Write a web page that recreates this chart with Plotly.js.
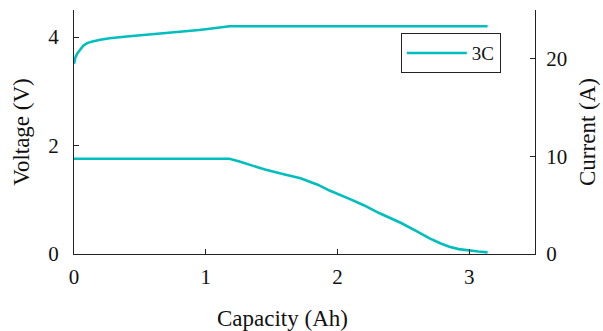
<!DOCTYPE html>
<html>
<head>
<meta charset="utf-8">
<script src="https://cdn.plot.ly/plotly-3.0.1.min.js"></script>
<style>html,body{margin:0;padding:0;background:#fff;}#chart{width:603px;height:331px;}</style>
</head>
<body>
<div id="chart"></div>
<script>
// Voltage (left axis) vs capacity
const capV = [0.0, 0.01, 0.025, 0.045, 0.07, 0.1, 0.14, 0.2, 0.27, 0.4, 0.55, 0.65, 0.8, 0.95, 1.03, 1.1, 1.18, 1.5, 2.0, 2.5, 2.9, 3.14];
const voltage = [3.51, 3.62, 3.7, 3.77, 3.84, 3.89, 3.92, 3.95, 3.98, 4.01, 4.04, 4.06, 4.09, 4.13, 4.155, 4.18, 4.2, 4.2, 4.2, 4.2, 4.2, 4.2];
// Current (right axis) vs capacity
const capI = [0.0, 0.5, 1.0, 1.18, 1.25, 1.34, 1.45, 1.6, 1.72, 1.85, 1.94, 2.1, 2.2, 2.32, 2.4, 2.48, 2.6, 2.7, 2.78, 2.85, 2.92, 3.0, 3.07, 3.14];
const current = [9.76, 9.76, 9.76, 9.76, 9.5, 9.1, 8.65, 8.15, 7.76, 7.1, 6.5, 5.6, 5.0, 4.17, 3.7, 3.2, 2.35, 1.6, 1.1, 0.75, 0.5, 0.35, 0.25, 0.17];
const seriesName = "3C";
const xTitle = "Capacity (Ah)";
const lineColor = "rgb(0,190,190)";

const traces = [
  {x: capV, y: voltage, type: "scatter", mode: "lines", name: seriesName,
   line: {color: lineColor, width: 2.6}, yaxis: "y", showlegend: true},
  {x: capI, y: current, type: "scatter", mode: "lines", name: seriesName,
   line: {color: lineColor, width: 2.6}, yaxis: "y2", showlegend: false}
];

const fam = "Liberation Serif, Times New Roman, serif";
const font = {family: fam, size: 23, color: "#111"};
const tfont = {family: fam, size: 21, color: "#111"};
const layout = {
  width: 603, height: 331,
  margin: {l: 74, r: 68, t: 10, b: 77},
  paper_bgcolor: "#fff", plot_bgcolor: "#fff",
  font: font,
  showlegend: true,
  legend: {x: 0.709, y: 0.905, xanchor: "left", yanchor: "top", bordercolor: "#222", borderwidth: 1,
           bgcolor: "#fff", itemwidth: 60, font: {family: fam, size: 19, color: "#111"}},
  xaxis: {range: [0, 3.5], tickvals: [0, 1, 2, 3], ticks: "inside", ticklen: 5, tickcolor: "#222",
          showline: true, linecolor: "#222", linewidth: 1, showgrid: false, zeroline: false,
          ticklabelstandoff: 4, tickfont: tfont},
  yaxis: {range: [0, 4.5], tickvals: [0, 2, 4], ticks: "inside", ticklen: 5, tickcolor: "#222",
          showline: true, linecolor: "#222", linewidth: 1, showgrid: false, zeroline: false,
          ticklabelstandoff: 10,
          title: {text: "Voltage (V)", font: font, standoff: 12}, tickfont: tfont},
  yaxis2: {range: [0, 25], tickvals: [0, 10, 20], ticks: "inside", ticklen: 5, tickcolor: "#222",
           overlaying: "y", side: "right", showline: true, linecolor: "#222", linewidth: 1,
           showgrid: false, zeroline: false, ticklabelstandoff: 6,
           title: {text: "Current (A)", font: font, standoff: 12}, tickfont: tfont},
  annotations: [{text: xTitle, xref: "paper", yref: "paper", x: 0.453, y: -0.265,
                 xanchor: "center", yanchor: "middle", showarrow: false, font: font}]
};
Plotly.newPlot("chart", traces, layout, {displayModeBar: false, staticPlot: true});
</script>
</body>
</html>
